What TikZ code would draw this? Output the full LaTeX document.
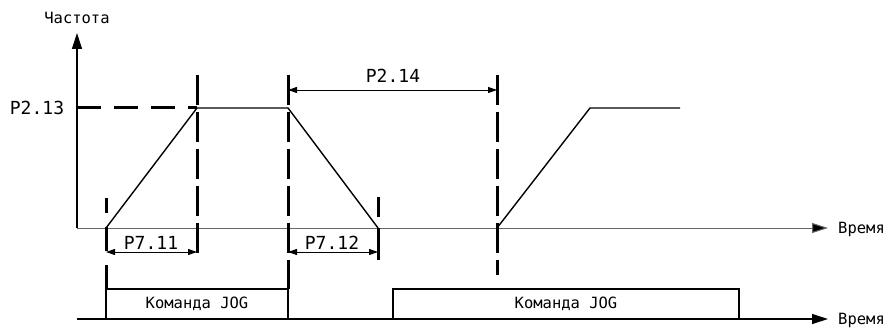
\documentclass[tikz,border=0pt]{standalone}
\usepackage{fontspec}
\setmonofont{DejaVu Sans Mono}
\usetikzlibrary{arrows.meta}
\begin{document}
\begin{tikzpicture}[x=1pt,y=-1pt,
 lbl/.style={font=\ttfamily\fontsize{15.5}{16}\selectfont, inner sep=0pt},
 plbl/.style={font=\ttfamily\fontsize{18}{18}\selectfont, inner sep=0pt},
 guide/.style={line width=3pt, dash pattern=on 30pt off 7pt},
 curve/.style={line width=1.4pt},
 axisline/.style={line width=1.2pt, -{Triangle[length=16pt,width=10pt]}},
 dim/.style={line width=0.9pt, {Triangle[length=9pt,width=6pt]}-{Triangle[length=9pt,width=6pt]}},
 cmdbox/.style={draw, line width=1.2pt, minimum height=30pt, inner sep=0pt, font=\ttfamily\fontsize{15.5}{16}\selectfont},
]
\useasboundingbox (0,0) rectangle (887,329);
% axes
\coordinate (O) at (77,228);
\coordinate (Ytop) at (77,33);
\coordinate (Tend) at (828,228);
\coordinate (O2) at (77,319);
\coordinate (T2end) at (828,319);
\draw[axisline] (O) -- (Ytop);
\draw[line width=1pt, black!60, -{Triangle[length=16pt,width=10pt,fill=black]}] (O) -- (Tend);
\draw[axisline] (O2) -- (T2end);
\node[lbl] (freq) at (77,18) {Частота};
\node[lbl, anchor=west] (time1) at (838,229) {Время};
\node[lbl, anchor=west] (time2) at (838,320) {Время};
\node[plbl] (p213) at (37,108) {P2.13};
% curve
\coordinate (a0) at (106,228);
\coordinate (a1) at (197,108);
\coordinate (a2) at (288,108);
\coordinate (a3) at (378,228);
\coordinate (b0) at (497,228);
\coordinate (b1) at (590,108);
\coordinate (b2) at (680,108);
\draw[curve, line join=miter] (a0) -- (a1) -- (a2) -- (a3);
\draw[curve, line join=miter] (b0) -- (b1) -- (b2);
% dashed guides
\draw[line width=3pt, dash pattern=on 24pt off 13pt] (77,108) -- (a1);
\draw[line width=3pt, dash pattern=on 24pt off 14pt, dash phase=9pt] (106,198) -- (106,289);
\draw[guide] (197,75) -- (197,254);
\draw[guide] (288,75) -- (288,289);
\draw[line width=3pt] (378,197) -- (378,217) (378,228) -- (378,260);
\draw[guide] (497,75) -- (497,275);
% dimensions
\coordinate (d1a) at (106,252);
\coordinate (d1b) at (197,252);
\coordinate (d2a) at (288,252);
\coordinate (d2b) at (378,252);
\coordinate (d3a) at (288,90);
\coordinate (d3b) at (497,90);
\draw[dim] (d1a) -- (d1b);
\draw[dim] (d2a) -- (d2b);
\draw[dim] (d3a) -- (d3b);
\node[plbl] (p711) at (151,243) {P7.11};
\node[plbl] (p712) at (332,243) {P7.12};
\node[plbl] (p214) at (393,76) {P2.14};
% command boxes
\node[cmdbox, minimum width=182pt] (jog1) at (197,304) {Команда JOG};
\node[cmdbox, minimum width=346pt] (jog2) at (566,304) {Команда JOG};
\end{tikzpicture}
\end{document}
